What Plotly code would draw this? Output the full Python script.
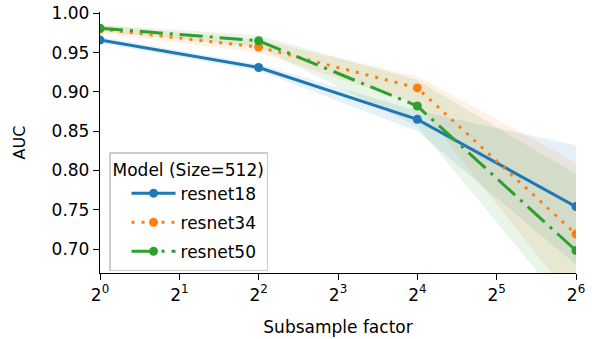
import plotly.graph_objects as go

factors = [1, 4, 16, 64]
models = ["resnet18", "resnet34", "resnet50"]
auc_resnet18 = [0.966, 0.931, 0.865, 0.754]
auc_resnet34 = [0.980, 0.957, 0.905, 0.719]
auc_resnet50 = [0.981, 0.965, 0.882, 0.698]
lo_resnet18 = [0.962, 0.927, 0.850, 0.680]
hi_resnet18 = [0.970, 0.935, 0.876, 0.832]
lo_resnet34 = [0.975, 0.950, 0.885, 0.630]
hi_resnet34 = [0.985, 0.966, 0.920, 0.810]
lo_resnet50 = [0.977, 0.957, 0.856, 0.612]
hi_resnet50 = [0.985, 0.972, 0.915, 0.795]
x_tick_vals = [1, 2, 4, 8, 16, 32, 64]
x_tick_text = ["2<sup>0</sup>", "2<sup>1</sup>", "2<sup>2</sup>", "2<sup>3</sup>",
               "2<sup>4</sup>", "2<sup>5</sup>", "2<sup>6</sup>"]
y_tick_vals = [0.70, 0.75, 0.80, 0.85, 0.90, 0.95, 1.00]

series = [
    ("resnet18", auc_resnet18, lo_resnet18, hi_resnet18, "#1f77b4", "rgba(31,119,180,0.11)", "solid"),
    ("resnet34", auc_resnet34, lo_resnet34, hi_resnet34, "#ff7f0e", "rgba(255,127,14,0.11)", "3px,7px"),
    ("resnet50", auc_resnet50, lo_resnet50, hi_resnet50, "#2ca02c", "rgba(44,160,44,0.11)", "23px,7px,3px,7px"),
]

fig = go.Figure()
for name, y, lo, hi, col, fill, dash in series:
    fig.add_trace(go.Scatter(
        x=factors + factors[::-1], y=hi + lo[::-1], fill="toself",
        fillcolor=fill, line=dict(width=0), mode="lines",
        showlegend=False, hoverinfo="skip"))
for name, y, lo, hi, col, fill, dash in series:
    fig.add_trace(go.Scatter(
        x=factors, y=y, name=name, mode="lines+markers", legendgroup=name,
        line=dict(color=col, width=3, dash=dash),
        marker=dict(color=col, size=9)))

fig.update_layout(
    width=592, height=339,
    margin=dict(l=100, r=16, t=12, b=66),
    paper_bgcolor="white", plot_bgcolor="white",
    font=dict(family="DejaVu Sans", size=17, color="black"),
    legend=dict(
        title=dict(text="Model (Size=512)", font=dict(size=17)),
        x=0.019, y=0.4636, xanchor="left", yanchor="top",
        bgcolor="rgba(255,255,255,0.8)", bordercolor="#cccccc", borderwidth=1.5,
        font=dict(size=17), tracegroupgap=4, itemwidth=44, indentation=16),
    xaxis=dict(
        type="log", range=[0, 1.80618], tickvals=x_tick_vals, ticktext=x_tick_text,
        showgrid=False, zeroline=False, showline=True, linecolor="black", linewidth=1.3,
        ticks="outside", ticklen=6, tickwidth=1.3, tickcolor="black", automargin=False,
        title=dict(text="Subsample factor", standoff=17, font=dict(size=17)),
        tickfont=dict(size=17)),
    yaxis=dict(
        range=[0.6695, 1.0016], tickvals=y_tick_vals,
        ticktext=["%.2f" % v for v in y_tick_vals],
        showgrid=False, zeroline=False, showline=True, linecolor="black", linewidth=1.3,
        ticks="outside", ticklen=6, tickwidth=1.3, tickcolor="black", automargin=False,
        title=dict(text="AUC", standoff=21, font=dict(size=16)),
        tickfont=dict(size=17)),
)

fig.write_html("out.html", config={"displayModeBar": False},
               post_script="document.body.style.margin='0';")
